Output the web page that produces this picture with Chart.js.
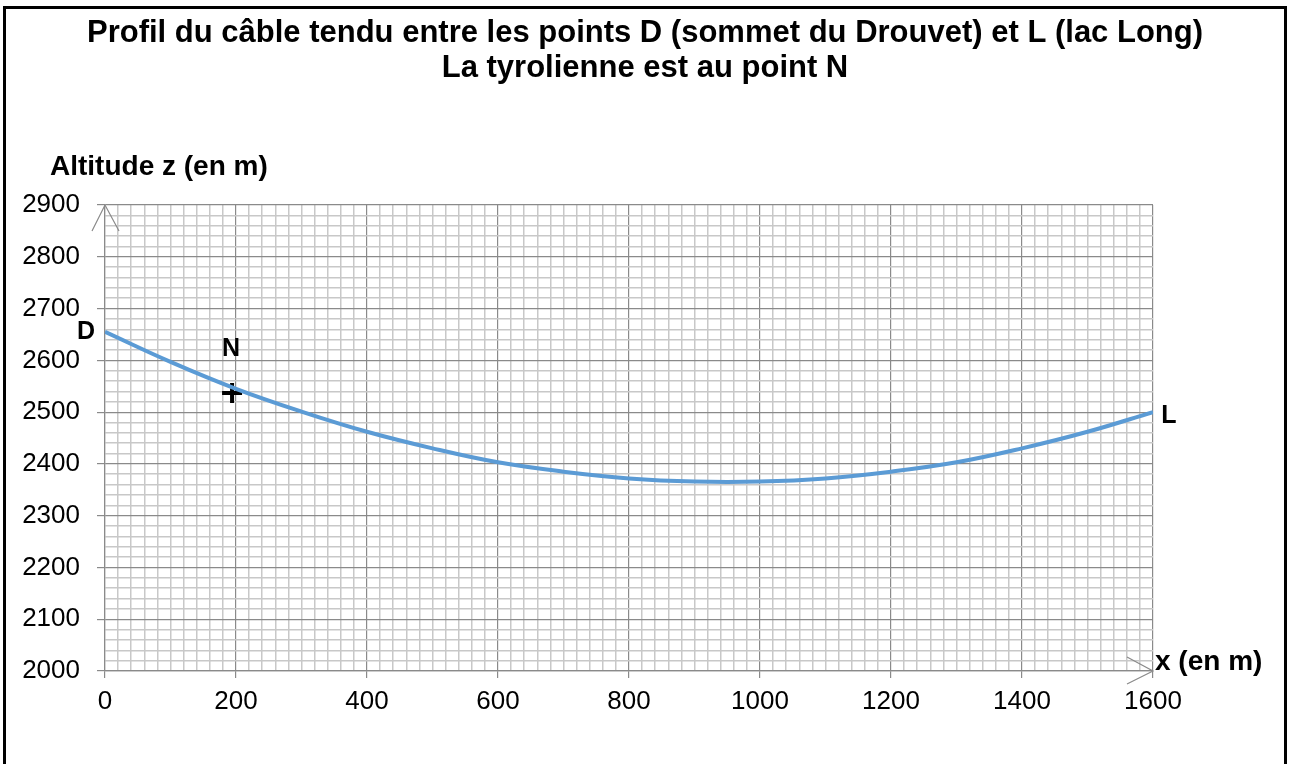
<!DOCTYPE html>
<html>
<head>
<meta charset="utf-8">
<title>Profil du câble</title>
<script src="https://cdn.jsdelivr.net/npm/chart.js@4.4.1/dist/chart.umd.min.js"></script>
<style>
  html, body { margin: 0; padding: 0; background: #fff; }
  #wrap { width: 1290px; height: 764px; }
</style>
</head>
<body>
<div id="wrap"><canvas id="profil" width="1290" height="764"></canvas></div>
<script>
// valeurs (x en m, z en m)
const distances = [0, 100, 200, 300, 400, 500, 600, 700, 800, 900, 1000, 1100, 1200, 1300, 1400, 1500, 1600];
const altitudes = [2655, 2597, 2545, 2501, 2462, 2430, 2403, 2385, 2372, 2366, 2366, 2372, 2385, 2403, 2430, 2462, 2500];

// la tyrolienne
const pointN = { x: 194, z: 2537 };

const xMin = 0, xMax = 1600, xMajor = 200;
const zMin = 2000, zMax = 2900, zMajor = 100;
const gridStep = 20;

const titleLines = [
  'Profil du câble tendu entre les points D (sommet du Drouvet) et L (lac Long)',
  'La tyrolienne est au point N'
];
const yAxisTitle = 'Altitude z (en m)';
const xAxisTitle = 'x (en m)';

const FONT = '"Liberation Sans", Arial, sans-serif';
const MAJOR = '#8a8a8a';
const MINOR = '#c8c8c8';

function isMajor(v, step) {
  return Math.abs(v / step - Math.round(v / step)) < 1e-6;
}

const decorations = {
  id: 'decorations',
  afterDraw(chart) {
    const ctx = chart.ctx;
    const xs = chart.scales.x, ys = chart.scales.y;
    const area = chart.chartArea;
    ctx.save();

    // cadre
    ctx.strokeStyle = '#000';
    ctx.lineWidth = 3;
    ctx.beginPath();
    ctx.moveTo(4.5, 764);
    ctx.lineTo(4.5, 7.5);
    ctx.lineTo(1285.5, 7.5);
    ctx.lineTo(1285.5, 764);
    ctx.stroke();

    // titre
    ctx.fillStyle = '#000';
    ctx.textAlign = 'center';
    ctx.textBaseline = 'middle';
    ctx.font = 'bold 31px ' + FONT;
    ctx.fillText(titleLines[0], 645, 33);
    ctx.fillText(titleLines[1], 645, 68);

    // titres des axes
    ctx.font = 'bold 28px ' + FONT;
    ctx.textAlign = 'left';
    ctx.fillText(yAxisTitle, 50, 167);
    ctx.fillText(xAxisTitle, 1155, 662);

    // noms des points
    ctx.font = 'bold 25px ' + FONT;
    ctx.textAlign = 'center';
    ctx.fillText('D', xs.getPixelForValue(distances[0]) - 19, ys.getPixelForValue(altitudes[0]));
    ctx.fillText('L', xs.getPixelForValue(distances[distances.length - 1]) + 16, ys.getPixelForValue(altitudes[altitudes.length - 1]) + 4);
    ctx.fillText('N', xs.getPixelForValue(pointN.x) - 1, ys.getPixelForValue(pointN.z) - 44);

    // flèches des axes
    ctx.strokeStyle = '#8a8a8a';
    ctx.lineWidth = 1.2;
    ctx.beginPath();
    ctx.moveTo(area.left - 13, area.top + 26);
    ctx.lineTo(area.left, area.top);
    ctx.lineTo(area.left + 14, area.top + 26);
    ctx.moveTo(area.right - 26, area.bottom - 14);
    ctx.lineTo(area.right, area.bottom);
    ctx.lineTo(area.right - 26, area.bottom + 13);
    ctx.stroke();

    ctx.restore();
  }
};

new Chart(document.getElementById('profil'), {
  type: 'line',
  data: {
    datasets: [
      {
        label: 'câble',
        data: distances.map((x, i) => ({ x: x, y: altitudes[i] })),
        borderColor: '#5b9bd5',
        borderWidth: 4,
        pointRadius: 0,
        tension: 0.4,
        fill: false
      },
      {
        label: 'N',
        type: 'scatter',
        data: [{ x: pointN.x, y: pointN.z }],
        pointStyle: 'cross',
        pointRadius: 10,
        borderColor: '#000',
        borderWidth: 4,
        clip: false
      }
    ]
  },
  options: {
    responsive: false,
    animation: false,
    devicePixelRatio: 1,
    layout: { padding: { left: 15, right: 137, top: 205, bottom: 33 } },
    plugins: {
      legend: { display: false },
      tooltip: { enabled: false },
      title: { display: false }
    },
    scales: {
      x: {
        type: 'linear',
        min: xMin,
        max: xMax,
        afterFit(scale) {
          scale.height = 60;
          scale.paddingLeft = 0;
          scale.paddingRight = 0;
        },
        afterBuildTicks(scale) {
          const t = [];
          for (let v = xMin; v <= xMax; v += gridStep) t.push({ value: v });
          scale.ticks = t;
        },
        ticks: {
          autoSkip: false,
          maxRotation: 0,
          padding: 8,
          color: '#000',
          font: { family: FONT, size: 26 },
          callback: v => isMajor(v, xMajor) ? String(v) : ''
        },
        grid: {
          color: c => isMajor(c.tick.value, xMajor) ? MAJOR : MINOR,
          lineWidth: c => isMajor(c.tick.value, xMajor) ? 1.2 : 1.5,
          tickColor: c => isMajor(c.tick.value, xMajor) ? MAJOR : 'rgba(0,0,0,0)',
          tickLength: 7
        },
        border: { color: MAJOR, width: 1.2 }
      },
      y: {
        type: 'linear',
        min: zMin,
        max: zMax,
        afterFit(scale) {
          scale.width = 90;
          scale.paddingTop = 0;
          scale.paddingBottom = 0;
        },
        afterBuildTicks(scale) {
          const t = [];
          for (let v = zMin; v <= zMax; v += gridStep) t.push({ value: v });
          scale.ticks = t;
        },
        ticks: {
          autoSkip: false,
          padding: 17,
          color: '#000',
          font: { family: FONT, size: 26 },
          callback: v => isMajor(v, zMajor) ? String(v) : ''
        },
        grid: {
          color: c => isMajor(c.tick.value, zMajor) ? MAJOR : MINOR,
          lineWidth: c => isMajor(c.tick.value, zMajor) ? 1.2 : 1.5,
          tickColor: c => isMajor(c.tick.value, zMajor) ? MAJOR : 'rgba(0,0,0,0)',
          tickLength: 8
        },
        border: { color: MAJOR, width: 1.2 }
      }
    }
  },
  plugins: [decorations]
});
</script>
</body>
</html>
